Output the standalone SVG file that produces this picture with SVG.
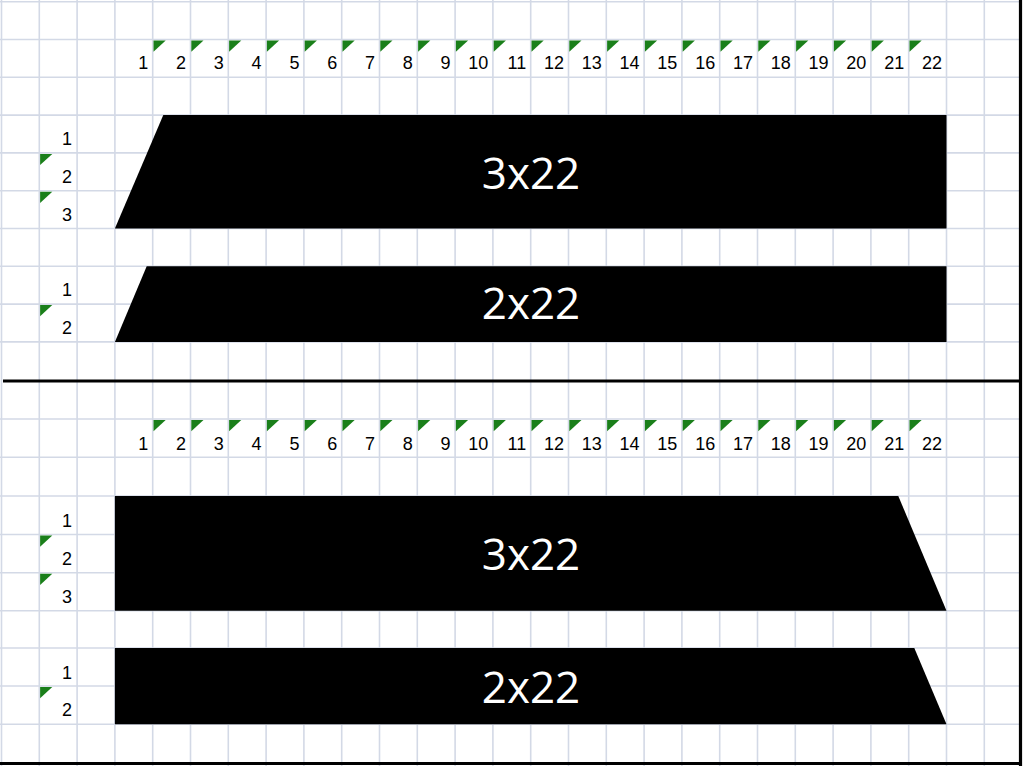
<svg xmlns="http://www.w3.org/2000/svg" xmlns:xlink="http://www.w3.org/1999/xlink" width="1024" height="766" viewBox="0 0 1024 766">
<style>
.grid{fill:none;stroke:#d3d9e6;stroke-width:1.6}
.thick{fill:none;stroke:#000;stroke-width:3.2}
.num{font-family:"Liberation Sans",Arial,sans-serif;font-size:18px;fill:#000;text-anchor:end}
.shape{fill:#000}
.big{font-family:"Open Sans","Noto Sans",sans-serif;font-size:44px;fill:#fff;text-anchor:middle}
.tri{fill:#1a7f1a}
</style>
<defs>
<path id="tri" class="tri" d="M0.8 1H13L0.8 12.2Z"/>
</defs>
<rect width="1024" height="766" fill="#fff"/>
<g id="grid">
<path class="grid" d="M1.5 0V766M39.3 0V766M77.1 0V766M114.9 0V766M152.7 0V766M190.5 0V766M228.3 0V766M266.1 0V766M303.9 0V766M341.7 0V766M379.5 0V766M417.3 0V766M455.1 0V766M492.9 0V766M530.7 0V766M568.5 0V766M606.3 0V766M644.1 0V766M681.9 0V766M719.7 0V766M757.5 0V766M795.3 0V766M833.1 0V766M870.9 0V766M908.7 0V766M946.5 0V766M984.3 0V766"/>
<path class="grid" d="M0 1.7H1020M0 39.5H1020M0 77.3H1020M0 115.1H1020M0 152.9H1020M0 190.7H1020M0 228.5H1020M0 266.3H1020M0 304.1H1020M0 341.9H1020M0 419H1020M0 457.3H1020M0 496H1020M0 534.5H1020M0 572.7H1020M0 610.7H1020M0 648H1020M0 686H1020M0 724.3H1020"/>
<path class="thick" d="M3 381H1020.5M1020.5 0V766M0 763.5H1020.5"/>
</g>
<g id="header-top">
<g class="num">
<text x="148.2" y="69.3">1</text><text x="186" y="69.3">2</text><text x="223.8" y="69.3">3</text><text x="261.6" y="69.3">4</text><text x="299.4" y="69.3">5</text><text x="337.2" y="69.3">6</text><text x="375" y="69.3">7</text><text x="412.8" y="69.3">8</text><text x="450.6" y="69.3">9</text><text x="488.4" y="69.3">10</text><text x="526.2" y="69.3">11</text><text x="564" y="69.3">12</text><text x="601.8" y="69.3">13</text><text x="639.6" y="69.3">14</text><text x="677.4" y="69.3">15</text><text x="715.2" y="69.3">16</text><text x="753" y="69.3">17</text><text x="790.8" y="69.3">18</text><text x="828.6" y="69.3">19</text><text x="866.4" y="69.3">20</text><text x="904.2" y="69.3">21</text><text x="942" y="69.3">22</text>
</g>
<use href="#tri" x="152.7" y="39.5"/><use href="#tri" x="190.5" y="39.5"/><use href="#tri" x="228.3" y="39.5"/><use href="#tri" x="266.1" y="39.5"/><use href="#tri" x="303.9" y="39.5"/><use href="#tri" x="341.7" y="39.5"/><use href="#tri" x="379.5" y="39.5"/><use href="#tri" x="417.3" y="39.5"/><use href="#tri" x="455.1" y="39.5"/><use href="#tri" x="492.9" y="39.5"/><use href="#tri" x="530.7" y="39.5"/><use href="#tri" x="568.5" y="39.5"/><use href="#tri" x="606.3" y="39.5"/><use href="#tri" x="644.1" y="39.5"/><use href="#tri" x="681.9" y="39.5"/><use href="#tri" x="719.7" y="39.5"/><use href="#tri" x="757.5" y="39.5"/><use href="#tri" x="795.3" y="39.5"/><use href="#tri" x="833.1" y="39.5"/><use href="#tri" x="870.9" y="39.5"/><use href="#tri" x="908.7" y="39.5"/>
</g>
<g id="header-bottom">
<g class="num">
<text x="148.2" y="449.5">1</text><text x="186" y="449.5">2</text><text x="223.8" y="449.5">3</text><text x="261.6" y="449.5">4</text><text x="299.4" y="449.5">5</text><text x="337.2" y="449.5">6</text><text x="375" y="449.5">7</text><text x="412.8" y="449.5">8</text><text x="450.6" y="449.5">9</text><text x="488.4" y="449.5">10</text><text x="526.2" y="449.5">11</text><text x="564" y="449.5">12</text><text x="601.8" y="449.5">13</text><text x="639.6" y="449.5">14</text><text x="677.4" y="449.5">15</text><text x="715.2" y="449.5">16</text><text x="753" y="449.5">17</text><text x="790.8" y="449.5">18</text><text x="828.6" y="449.5">19</text><text x="866.4" y="449.5">20</text><text x="904.2" y="449.5">21</text><text x="942" y="449.5">22</text>
</g>
<use href="#tri" x="152.7" y="419"/><use href="#tri" x="190.5" y="419"/><use href="#tri" x="228.3" y="419"/><use href="#tri" x="266.1" y="419"/><use href="#tri" x="303.9" y="419"/><use href="#tri" x="341.7" y="419"/><use href="#tri" x="379.5" y="419"/><use href="#tri" x="417.3" y="419"/><use href="#tri" x="455.1" y="419"/><use href="#tri" x="492.9" y="419"/><use href="#tri" x="530.7" y="419"/><use href="#tri" x="568.5" y="419"/><use href="#tri" x="606.3" y="419"/><use href="#tri" x="644.1" y="419"/><use href="#tri" x="681.9" y="419"/><use href="#tri" x="719.7" y="419"/><use href="#tri" x="757.5" y="419"/><use href="#tri" x="795.3" y="419"/><use href="#tri" x="833.1" y="419"/><use href="#tri" x="870.9" y="419"/><use href="#tri" x="908.7" y="419"/>
</g>
<g id="shape-top-3x22">
<g class="num"><text x="72" y="145">1</text><text x="72" y="182.7">2</text><text x="72" y="220.5">3</text></g>
<use href="#tri" x="39.3" y="152.9"/><use href="#tri" x="39.3" y="190.7"/>
<path class="shape" d="M163.3 115.1H946.5V228.5H114.9Z"/>
<text class="big" x="531" y="188.5">3x22</text>
</g>
<g id="shape-top-2x22">
<g class="num"><text x="72" y="296">1</text><text x="72" y="334">2</text></g>
<use href="#tri" x="39.3" y="304.1"/>
<path class="shape" d="M146.7 266.3H946.5V341.9H114.9Z"/>
<text class="big" x="531" y="319">2x22</text>
</g>
<g id="shape-bottom-3x22">
<g class="num"><text x="72" y="526.5">1</text><text x="72" y="564.7">2</text><text x="72" y="602.7">3</text></g>
<use href="#tri" x="39.3" y="534.5"/><use href="#tri" x="39.3" y="572.7"/>
<path class="shape" d="M114.9 496H898.3L946.5 610.7H114.9Z"/>
<text class="big" x="531" y="570">3x22</text>
</g>
<g id="shape-bottom-2x22">
<g class="num"><text x="72" y="678.5">1</text><text x="72" y="716">2</text></g>
<use href="#tri" x="39.3" y="686"/>
<path class="shape" d="M114.9 648H914.3L946.5 724.3H114.9Z"/>
<text class="big" x="531" y="702.5">2x22</text>
</g>
<g id="connectors"/>
</svg>
